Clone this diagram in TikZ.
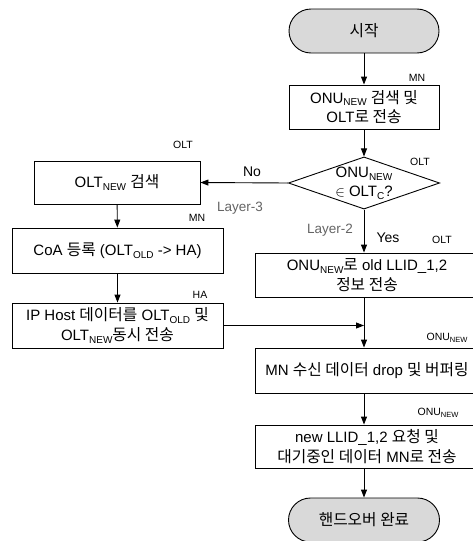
\documentclass[tikz,border=0pt]{standalone}
\usepackage{fontspec}
\setmainfont{Liberation Sans}
\newfontfamily\krfont[Scale=1.05]{Noto Sans CJK KR}
\usetikzlibrary{shapes.geometric,arrows.meta}
\newcommand\K[1]{{\krfont #1}}
\newcommand\lo[1]{\raisebox{-0.35ex}{\fontsize{10}{10}\selectfont #1}}
\newcommand\llo[1]{\raisebox{-0.3ex}{\fontsize{7.5}{7.5}\selectfont #1}}
\definecolor{termfill}{RGB}{217,217,217}
\definecolor{graytxt}{RGB}{100,100,100}
\begin{document}
\begin{tikzpicture}[x=1pt,y=-1pt,
  box/.style={draw,line width=0.9pt,align=center,inner sep=0pt,font=\fontsize{15}{19.5}\selectfont},
  term/.style={box,fill=termfill,rounded corners=22pt},
  dia/.style={draw,line width=0.9pt,diamond,aspect=2.9,inner sep=0pt,align=center,font=\fontsize{15}{19}\selectfont},
  lab/.style={font=\fontsize{10.5}{12}\selectfont,inner sep=0pt},
  glab/.style={font=\fontsize{13.5}{15}\selectfont,text=graytxt,inner sep=0pt},
  blab/.style={font=\fontsize{14}{16}\selectfont,inner sep=0pt},
  arr/.style={line width=0.9pt,-{Triangle[length=8pt,width=6pt]}}]
\useasboundingbox (0,0) rectangle (472,541);
\node[term,minimum width=150pt,minimum height=44pt] (start) at (364,31) {\K{시작}};
\node[box,minimum width=150pt,minimum height=44pt] (b1) at (364,107) {ONU\lo{NEW} \K{검색 및}\\OLT\K{로 전송}};
\node[lab] (l1) at (417,78) {MN};
\node[dia,minimum width=151pt,minimum height=52pt] (d) at (364,183) {ONU\lo{NEW}\\$\in$ OLT\lo{C}?};
\node[lab] (l2) at (420,162) {OLT};
\node[box,minimum width=166pt,minimum height=43pt] (b2) at (117,182.5) {OLT\lo{NEW} \K{검색}};
\node[lab] (l3) at (183,145) {OLT};
\node[blab] (no) at (252,172) {No};
\node[glab] (l3r) at (240,208) {Layer-3};
\node[glab] (l2r) at (330,230) {Layer-2};
\node[blab] (yes) at (388,238) {Yes};
\node[lab] (l4) at (442,240) {OLT};
\node[box,minimum width=224pt,minimum height=44pt] (b3) at (367,275) {ONU\lo{NEW}\K{로} old LLID\_1,2\\\K{정보 전송}};
\node[box,minimum width=211pt,minimum height=45pt] (b4) at (117.5,250.5) {CoA \K{등록} (OLT\lo{OLD} -> HA)};
\node[lab] (l5) at (197,218) {MN};
\node[box,minimum width=211pt,minimum height=45pt] (b5) at (117.5,325.5) {IP Host \K{데이터를} OLT\lo{OLD} \K{및}\\OLT\lo{NEW}\K{동시 전송}};
\node[lab] (l6) at (200,295) {HA};
\node[box,minimum width=224pt,minimum height=45pt] (b6) at (367,370.5) {MN \K{수신 데이터} drop \K{및 버퍼링}};
\node[lab] (l7) at (447,338) {ONU\llo{NEW}};
\node[box,minimum width=224pt,minimum height=43pt] (b7) at (367,446.5) {new LLID\_1,2 \K{요청 및}\\\K{대기중인 데이터} MN\K{로 전송}};
\node[lab] (l8) at (438,413) {ONU\llo{NEW}};
\node[term,minimum width=151pt,minimum height=44pt] (end) at (364,520) {\K{핸드오버 완료}};
\coordinate (m) at (d.south |- b5.east);
\coordinate (t3) at (d.south |- b3.north);
\coordinate (s3) at (d.south |- b3.south);
\coordinate (t6) at (d.south |- b6.north);
\coordinate (s6) at (d.south |- b6.south);
\coordinate (t7) at (d.south |- b7.north);
\coordinate (s7) at (d.south |- b7.south);
\draw[arr] (start) -- (b1);
\draw[arr] (b1) -- (d);
\draw[arr] (d.west) -- (b2.east);
\draw[arr] (d.south) -- (t3);
\draw[arr] (b2) -- (b4);
\draw[arr] (b4) -- (b5);
\draw[arr] (s3) -- (t6);
\draw[arr] (b5.east) -- (m);
\draw[arr] (s6) -- (t7);
\draw[arr] (s7) -- (end);
\end{tikzpicture}
\end{document}
